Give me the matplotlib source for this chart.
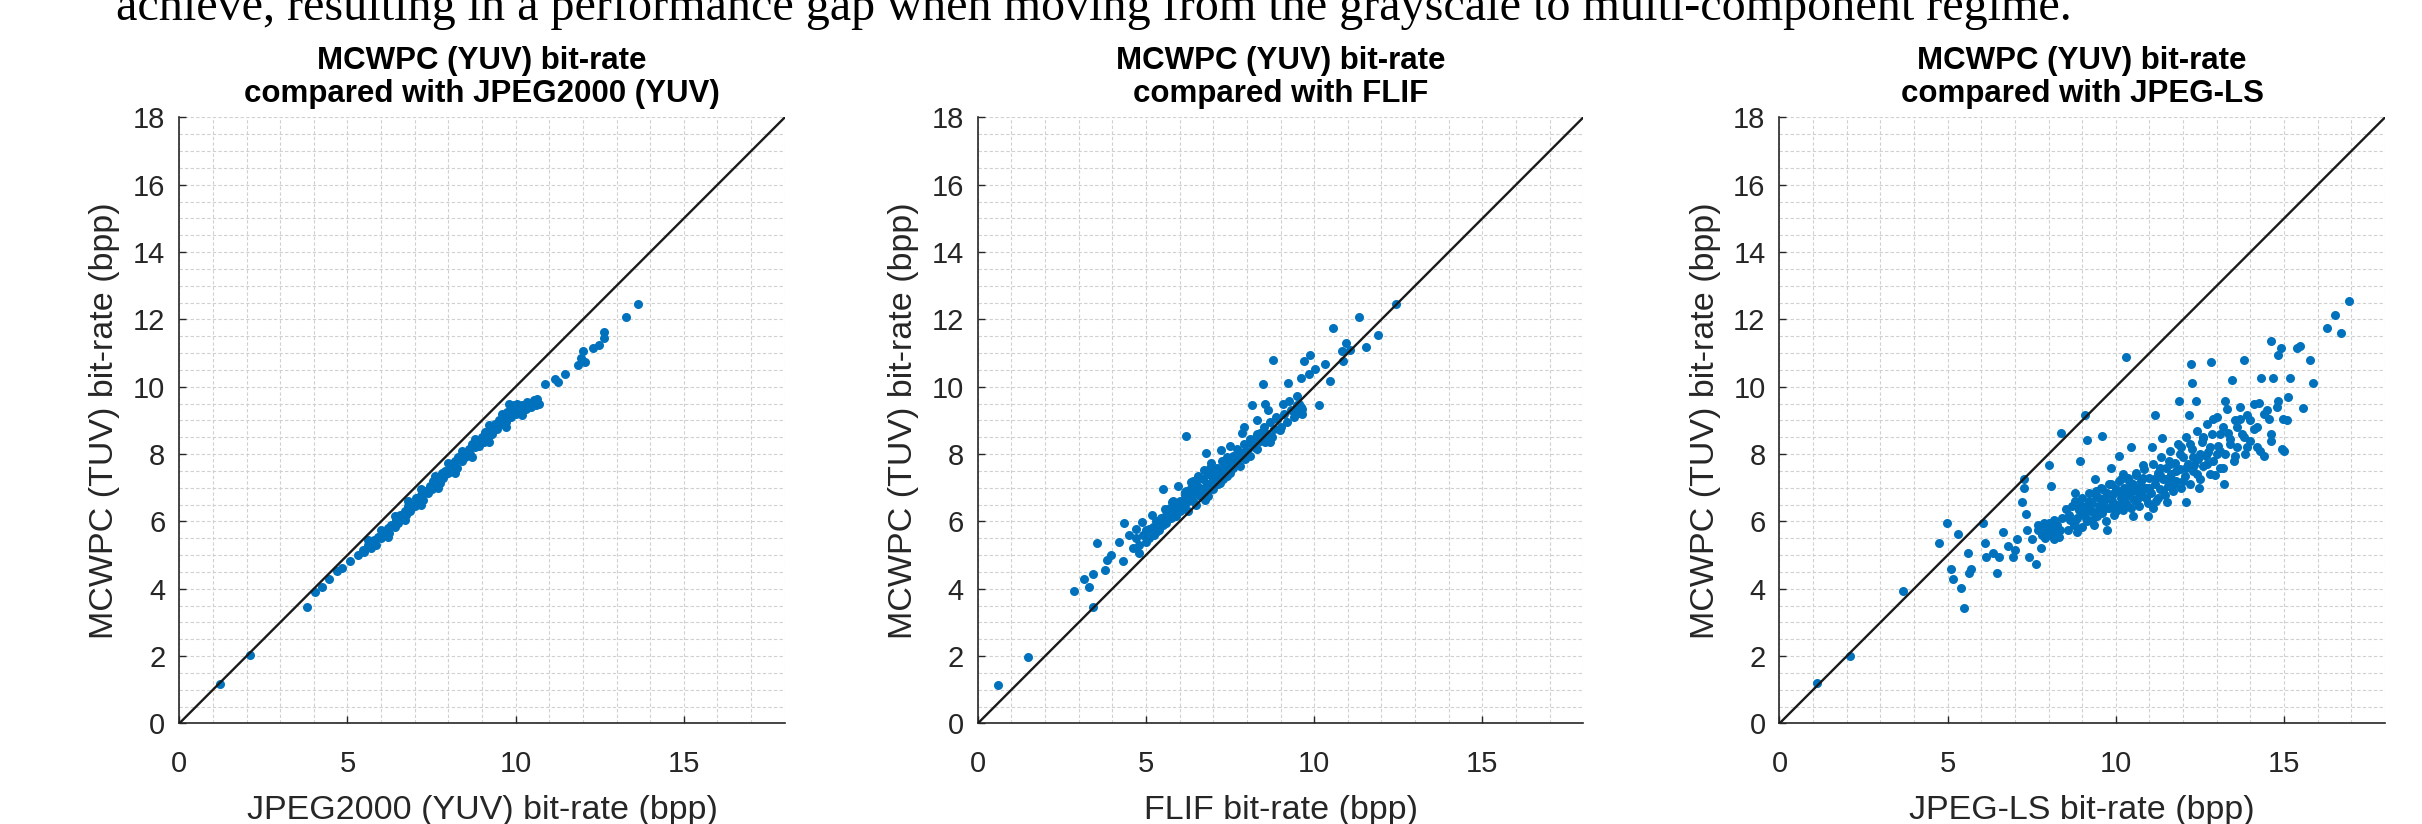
import matplotlib.pyplot as plt
from matplotlib.ticker import MultipleLocator

# values (bpp)
j2k_x = [1.2, 2.1, 3.8, 4.05, 4.24, 4.44, 4.68, 4.83, 5.07, 5.32, 5.46,
         5.5, 5.6, 5.7, 5.8, 5.85, 5.9, 6.0, 6.05, 6.1, 6.2, 6.25, 6.3, 6.4, 6.45, 6.5, 6.55, 6.6,
         6.7, 6.75, 6.8, 6.85, 6.9, 7.0, 7.05, 7.1, 7.2, 7.25, 7.3, 7.4, 7.45, 7.5, 7.55, 7.6,
         7.7, 7.75, 7.8, 7.85, 7.9, 8.0, 8.05, 8.1, 8.2, 8.25, 8.3, 8.4, 8.45, 8.5, 8.6, 8.65,
         8.7, 8.8, 8.85, 8.9, 9.0, 9.05, 9.1, 9.2, 9.25, 9.3, 9.4, 9.45, 9.5, 9.6, 9.65, 9.7,
         9.75, 9.8, 9.85, 9.9, 9.95, 10.0, 10.05, 10.1, 10.2, 10.3, 10.35, 10.45, 10.55, 10.6,
         10.65, 10.7,
         5.6, 6.0, 6.4, 6.8, 7.2, 7.6, 8.0, 8.4, 8.8, 9.2, 9.6,
         6.2, 6.7, 7.2, 7.7, 8.2, 8.7, 9.2, 9.7, 10.2,
         10.86, 11.17, 11.25, 11.46, 11.85, 11.95, 12.0, 12.05, 12.29, 12.49, 12.63, 12.63, 13.27, 13.63]
j2k_y = [1.18, 2.02, 3.45, 3.89, 4.04, 4.28, 4.52, 4.62, 4.82, 5.01, 5.16,
         5.1, 5.3, 5.2, 5.45, 5.3, 5.55, 5.5, 5.7, 5.6, 5.8, 5.65, 5.9, 5.85, 6.05, 5.95, 6.2, 6.1,
         6.3, 6.2, 6.45, 6.3, 6.5, 6.45, 6.7, 6.55, 6.8, 6.65, 6.9, 6.85, 7.05, 6.95, 7.2, 7.1,
         7.3, 7.15, 7.45, 7.3, 7.5, 7.45, 7.7, 7.55, 7.8, 7.6, 7.9, 7.8, 8.05, 7.9, 8.15, 8.0,
         8.3, 8.2, 8.4, 8.25, 8.5, 8.35, 8.65, 8.55, 8.8, 8.6, 8.9, 8.75, 9.0, 8.9, 9.1, 8.95,
         9.25, 9.5, 9.1, 9.35, 9.45, 9.2, 9.5, 9.3, 9.45, 9.35, 9.55, 9.4, 9.6, 9.45,
         9.65, 9.5,
         5.45, 5.75, 6.15, 6.6, 6.95, 7.35, 7.75, 8.1, 8.45, 8.85, 9.2,
         5.55, 6.05, 6.5, 7.0, 7.45, 7.9, 8.35, 8.8, 9.15,
         10.08, 10.22, 10.15, 10.37, 10.66, 10.86, 11.05, 10.75, 11.15, 11.25, 11.44, 11.64, 12.08, 12.47]

flif_x = [0.6, 1.5, 2.87, 3.15, 3.32, 3.42, 3.44, 3.53, 3.78, 3.83, 3.97, 4.21, 4.31, 4.36, 4.5,
          4.7, 4.8, 4.89, 5.09, 5.18, 5.38, 5.52, 5.57, 5.77, 5.96, 6.06, 6.16, 6.2, 6.35, 6.54,
          6.64, 6.74, 6.79, 6.83, 6.93, 7.13, 7.22, 7.32, 7.51, 7.71, 7.85, 7.9, 8.1, 8.15, 8.29,
          8.39, 8.49, 8.53, 8.63, 8.68, 8.78, 8.87, 8.97, 9.07, 9.21, 9.26, 9.46, 9.5, 9.6, 9.65,
          9.7, 9.84, 9.89, 10.04, 10.14, 10.33, 10.48, 10.57, 10.82, 10.87, 10.96, 11.06, 11.32,
          11.54, 11.9, 12.42,
          4.6, 4.7, 4.8, 4.9, 5.0, 5.0, 5.1, 5.2, 5.25, 5.3, 5.4, 5.45, 5.5, 5.6, 5.6, 5.7, 5.75,
          5.8, 5.9, 5.9, 6.0, 6.0, 6.1, 6.15, 6.2, 6.25, 6.3, 6.35, 6.4, 6.45, 6.5, 6.5, 6.6, 6.6,
          6.7, 6.7, 6.75, 6.8, 6.85, 6.9, 6.95, 7.0, 7.0, 7.1, 7.1, 7.15, 7.2, 7.25, 7.3, 7.35,
          7.4, 7.4, 7.5, 7.5, 7.6, 7.6, 7.7, 7.7, 7.8, 7.8, 7.9, 7.95, 8.0, 8.1, 8.1, 8.2, 8.3,
          8.3, 8.4, 8.5, 8.55, 8.6, 8.7, 8.75, 8.8, 8.9, 9.0, 9.1, 9.2, 9.3, 9.4, 9.5,
          9.45, 9.6, 9.65, 9.55,
          5.3, 5.8, 6.2, 6.6, 7.0, 7.3, 7.6, 7.9, 8.2, 8.5, 6.9, 6.4, 6.8, 7.2]
flif_y = [1.14, 1.96, 3.92, 4.28, 4.04, 4.43, 3.45, 5.35, 4.57, 4.86, 5.01, 5.4, 4.82, 5.94, 5.6,
          5.79, 5.06, 5.99, 5.79, 6.18, 5.99, 6.96, 6.38, 6.57, 7.06, 6.38, 6.86, 8.54, 7.16, 7.35,
          6.96, 7.54, 8.03, 6.77, 7.74, 7.35, 8.13, 7.74, 8.23, 7.93, 8.62, 8.81, 8.32, 9.45, 9.01,
          8.62, 10.08, 9.49, 9.3, 8.37, 10.81, 9.1, 8.71, 9.49, 10.1, 9.59, 9.2, 9.74, 10.27, 9.35,
          10.76, 10.37, 10.94, 10.52, 9.47, 10.68, 10.18, 11.74, 11.05, 10.76, 11.3, 11.1, 12.08,
          11.17, 11.54, 12.47,
          5.2, 5.5, 5.3, 5.6, 5.4, 5.75, 5.5, 5.85, 5.6, 6.0, 5.75, 6.1, 5.9, 6.2, 5.95, 6.4, 6.1,
          6.3, 6.5, 6.15, 6.6, 6.3, 6.45, 6.8, 6.55, 6.3, 6.75, 7.0, 6.6, 6.85, 6.5, 7.1, 6.75, 7.0,
          6.9, 7.25, 6.65, 7.1, 7.4, 6.95, 7.2, 7.5, 6.95, 7.3, 7.6, 7.1, 7.45, 7.8, 7.25, 7.6,
          7.9, 7.35, 7.7, 7.45, 7.95, 7.6, 7.8, 8.15, 7.65, 8.0, 8.3, 7.85, 8.1, 8.45, 7.95, 8.2, 8.6,
          8.15, 8.4, 8.8, 8.35, 8.6, 8.95, 8.5, 8.75, 9.05, 8.8, 9.2, 8.95, 9.3, 9.1, 9.45,
          9.25, 9.4, 9.2, 9.5,
          5.7, 6.6, 6.9, 7.3, 7.25, 7.5, 7.75, 8.05, 8.45, 8.6, 7.6, 7.2, 6.85, 7.15]

jls_x = [1.11, 2.11, 3.66, 4.74, 4.99, 5.1, 5.17, 5.32, 5.39, 5.49, 5.6, 5.63, 5.7, 6.06, 6.11,
         6.14, 6.35, 6.47, 6.52, 6.64, 6.78, 6.93, 7.0, 7.07, 7.21, 7.28, 7.28, 7.33, 7.36, 7.43,
         7.5, 7.64, 7.69, 7.79, 7.86, 7.93, 8.0, 8.07, 8.15, 8.22, 8.36, 8.51, 8.58, 8.65, 8.79,
         8.86, 8.94, 9.01, 9.08, 9.15, 9.22, 9.3, 9.37, 9.51, 9.58, 9.66, 9.73, 9.87, 9.94, 10.01,
         10.09, 10.16, 10.23, 10.3, 10.37, 10.45, 10.52, 10.59, 10.66, 10.8, 10.88, 10.95, 11.09,
         11.16, 11.24, 11.31, 11.38, 11.52, 11.59, 11.74, 11.88, 11.95, 12.1, 12.17, 12.24, 12.27,
         12.31, 12.39, 12.46, 12.6, 12.67, 12.82, 12.89, 12.96, 13.1, 13.22, 13.25, 13.32, 13.46,
         13.53, 13.68, 13.82, 13.89, 14.11, 14.25, 14.32, 14.4, 14.54, 14.61, 14.68, 14.83, 14.9,
         14.83, 14.97, 14.94, 15.19, 15.11, 15.4, 15.47, 15.55, 15.76, 15.86, 16.29, 16.51, 16.7,
         16.94,
         7.7, 7.8, 7.85, 7.9, 7.95, 8.0, 8.05, 8.1, 8.15, 8.2, 8.25, 8.3, 8.35, 8.4,
         8.6, 8.7, 8.75, 8.8, 8.85, 8.9, 9.0, 9.0, 9.05, 9.1, 9.15, 9.2, 9.25, 9.3, 9.35, 9.4,
         9.45, 9.5, 9.55, 9.6, 9.65, 9.7, 9.75, 9.8, 9.85, 9.9, 9.95, 10.0, 10.05, 10.1, 10.15,
         10.2, 10.25, 10.3, 10.35, 10.4, 10.45, 10.5, 10.55, 10.6, 10.65, 10.7, 10.75, 10.8, 10.85,
         10.9, 10.95, 11.0, 11.05, 11.1, 11.15, 11.2, 11.25, 11.3, 11.35, 11.4, 11.45, 11.5, 11.55,
         11.6, 11.65, 11.7, 11.75, 11.8, 11.85, 11.9, 11.95, 12.0, 12.05, 12.1, 12.15, 12.2, 12.25,
         12.3, 12.4, 12.45, 12.5, 12.55, 12.6, 12.7, 12.75, 12.8, 12.85, 12.9, 13.0, 13.05, 13.1,
         13.2, 13.25, 13.3, 13.4, 13.5, 13.55, 13.6, 13.7, 13.75, 13.85, 13.9, 14.0, 14.1, 14.2,
         14.3, 14.5, 14.6, 14.8, 15.0, 15.1,
         8.8, 8.9, 9.1, 9.2, 9.3, 9.4, 9.5, 9.6, 9.7, 9.8, 9.9, 10.0, 10.1, 10.2, 10.3, 10.4,
         10.5, 10.6, 10.7, 10.8, 10.9, 11.0, 11.1, 11.2, 11.3, 11.4, 11.5, 11.6, 11.7, 11.8,
         11.9, 12.0, 12.1, 12.2, 12.3, 12.4, 12.5, 12.6, 12.7, 12.8, 13.0, 13.1, 13.2, 13.4,
         13.6, 13.8, 14.0, 14.2, 14.4, 14.6]
jls_y = [1.19, 2.0, 3.92, 5.35, 5.96, 4.6, 4.28, 5.62, 4.01, 3.44, 5.07, 4.46, 4.6, 5.96, 5.35,
         4.94, 5.07, 4.46, 4.94, 5.69, 5.28, 4.94, 5.14, 5.48, 6.58, 7.26, 6.98, 6.23, 5.76, 4.94,
         5.48, 4.73, 5.89, 5.21, 5.96, 5.62, 7.67, 7.05, 5.48, 5.83, 8.62, 6.37, 5.76, 6.03, 6.85,
         5.69, 7.8, 6.3, 9.17, 8.42, 6.58, 6.03, 7.26, 6.3, 8.55, 6.71, 5.76, 7.6, 6.85, 6.3,
         7.94, 7.26, 6.58, 10.87, 6.98, 8.21, 6.17, 7.39, 6.71, 7.67, 6.98, 6.17, 8.21,
         9.17, 6.71, 7.39, 8.49, 6.58, 7.8, 7.12, 9.58, 8.21, 6.58, 9.17, 10.67, 10.12,
         7.67, 9.58, 6.98, 8.49, 7.94, 10.74, 9.03, 7.39, 8.08, 7.12, 9.58, 8.62, 10.19,
         7.94, 9.03, 10.81, 8.21, 8.76, 9.51, 10.26, 7.94, 9.03, 11.35, 10.26, 10.94, 11.15,
         9.58, 9.03, 8.14, 10.26, 9.71, 11.15, 11.21, 9.37, 10.81, 10.1, 11.76, 12.13, 11.6,
         12.54,
         5.75, 5.6, 5.9, 5.5, 5.75, 5.95, 5.6, 5.8, 6.05, 5.65, 5.9, 5.55, 5.75, 6.1,
         6.2, 6.45, 5.9, 6.6, 6.1, 6.35, 5.85, 6.7, 6.2, 6.45, 6.0, 6.85, 6.3, 6.55, 5.9, 6.75,
         6.15, 6.45, 7.0, 6.25, 6.6, 6.0, 6.85, 6.4, 7.1, 6.6, 6.2, 6.95, 6.5, 7.2, 6.7,
         6.35, 7.0, 6.55, 7.3, 6.8, 6.4, 7.1, 6.65, 7.45, 6.9, 6.45, 7.2, 6.75, 7.55,
         7.0, 6.55, 7.3, 6.85, 7.7, 7.1, 6.6, 7.45, 6.95, 7.9, 7.25, 6.8, 7.6, 7.05,
         8.1, 7.4, 6.9, 7.75, 7.2, 8.3, 7.55, 7.0, 7.9, 7.35, 8.5, 7.7, 7.1, 8.15,
         7.5, 8.7, 7.85, 7.25, 8.35, 7.65, 8.9, 8.05, 7.4, 8.6, 7.8, 9.1, 8.25, 7.6,
         8.8, 8.0, 9.35, 8.45, 7.8, 9.0, 8.2, 9.4, 8.6, 8.0, 9.15, 8.4, 9.5, 8.8,
         8.1, 9.3, 8.6, 9.4, 8.1, 9.0,
         6.0, 6.55, 6.1, 6.6, 6.3, 6.9, 6.7, 6.95, 6.4, 7.1, 6.8, 6.5, 6.9, 7.4, 6.8, 7.2,
         6.9, 6.6, 7.0, 7.3, 6.7, 7.0, 6.4, 7.3, 7.6, 6.9, 7.25, 7.7, 7.2, 7.5,
         8.0, 7.2, 7.6, 8.3, 7.9, 7.4, 8.0, 8.5, 7.7, 8.2, 8.0, 8.6, 7.6, 8.3,
         8.8, 8.5, 9.0, 8.2, 9.2, 8.4]

panels = [
    (j2k_x, j2k_y, "MCWPC (YUV) bit-rate\ncompared with JPEG2000 (YUV)", "JPEG2000 (YUV) bit-rate (bpp)"),
    (flif_x, flif_y, "MCWPC (YUV) bit-rate\ncompared with FLIF", "FLIF bit-rate (bpp)"),
    (jls_x, jls_y, "MCWPC (YUV) bit-rate\ncompared with JPEG-LS", "JPEG-LS bit-rate (bpp)"),
]
ylab = "MCWPC (TUV) bit-rate (bpp)"

plt.rcParams['font.family'] = ['Liberation Sans', 'DejaVu Sans']
grey = '#262626'

fig = plt.figure(figsize=(24.22, 8.24), dpi=100)
lefts = [0.0740, 0.4037, 0.7347]

for left, (xs, ys, title, xlab) in zip(lefts, panels):
    ax = fig.add_axes([left, 0.122, 0.25, 0.7355])
    ax.plot(xs, ys, 'o', color='#0072BD', markersize=6.5, markeredgewidth=0, zorder=3)
    ax.plot([0, 18], [0, 18], color='#1a1a1a', linewidth=1.7, zorder=4)
    ax.set_xlim(0, 18)
    ax.set_ylim(0, 18)
    ax.xaxis.set_major_locator(MultipleLocator(5))
    ax.yaxis.set_major_locator(MultipleLocator(2))
    ax.xaxis.set_minor_locator(MultipleLocator(1))
    ax.yaxis.set_minor_locator(MultipleLocator(0.5))
    ax.grid(which='both', linestyle=(0, (3, 2)), color='#d0d0d0', linewidth=0.8)
    ax.set_axisbelow(True)
    for s in ['top', 'right']:
        ax.spines[s].set_visible(False)
    for s in ['left', 'bottom']:
        ax.spines[s].set_color(grey)
        ax.spines[s].set_linewidth(1.2)
    ax.tick_params(which='major', direction='in', length=5, width=1, colors=grey, labelsize=21)
    ax.tick_params(axis='x', which='major', pad=19)
    ax.tick_params(axis='y', which='major', pad=10)
    ax.tick_params(which='minor', length=0)
    ax.set_title(title, fontsize=22.5, fontweight='bold', linespacing=1.12, pad=11)
    ax.set_xlabel(xlab, fontsize=24.5, color=grey, labelpad=12)
    ax.set_ylabel(ylab, fontsize=24.5, color=grey, labelpad=9)

fig.text(0.0478, 0.976,
         "achieve, resulting in a performance gap when moving from the grayscale to multi-component regime.",
         fontsize=34.7, family=['Liberation Serif'], va='baseline', ha='left')

fig.savefig('out.png', dpi=100)
